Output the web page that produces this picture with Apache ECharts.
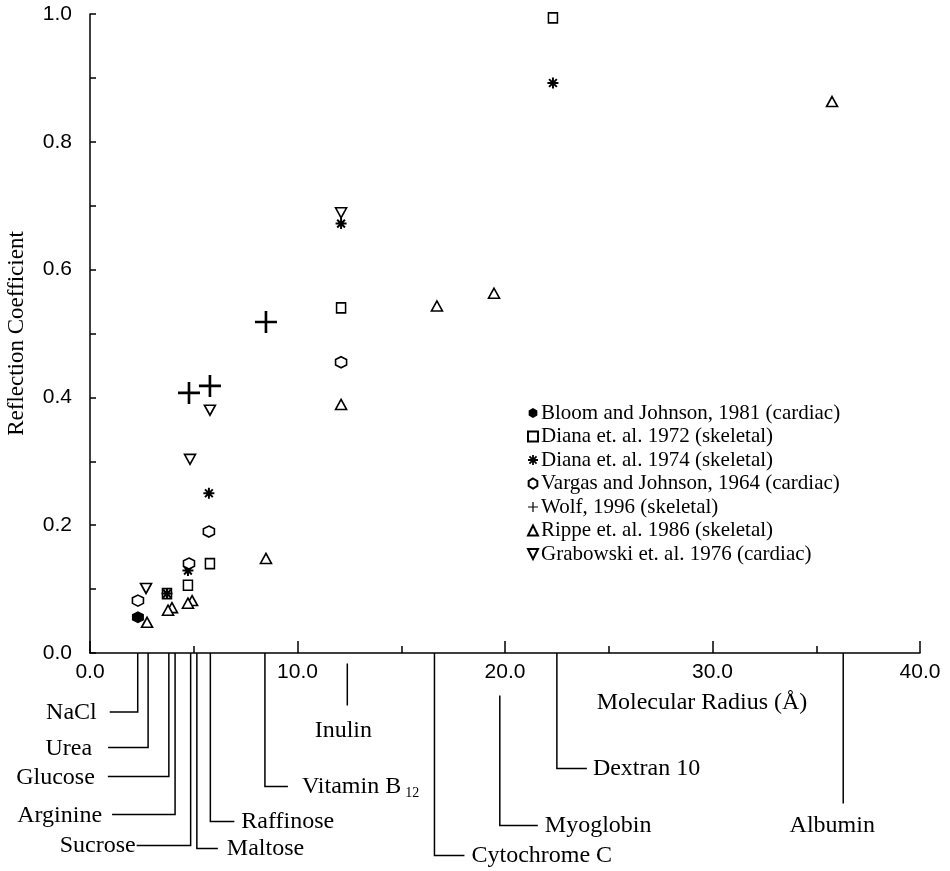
<!DOCTYPE html>
<html>
<head>
<meta charset="utf-8">
<script src="https://cdn.jsdelivr.net/npm/echarts@6/dist/echarts.min.js"></script>
<style>html,body{margin:0;padding:0;background:#fff;}#c{width:950px;height:871px;}</style>
</head>
<body>
<div id="c"></div>
<script>
// ---- data ----
const seriesNames = [
  'Bloom and Johnson, 1981 (cardiac)',
  'Diana et. al. 1972 (skeletal)',
  'Diana et. al. 1974 (skeletal)',
  'Vargas and Johnson, 1964 (cardiac)',
  'Wolf, 1996 (skeletal)',
  'Rippe et. al. 1986 (skeletal)',
  'Grabowski et. al. 1976 (cardiac)'
];
const bloomX = [2.31];
const bloomY = [0.056];
const diana72X = [22.31, 12.10, 5.78, 4.72, 3.71];
const diana72Y = [0.994, 0.540, 0.140, 0.106, 0.093];
const diana74X = [22.31, 12.10, 5.73, 4.72, 3.71];
const diana74Y = [0.892, 0.672, 0.250, 0.129, 0.093];
const vargasX = [12.10, 5.73, 4.77, 2.31];
const vargasY = [0.455, 0.190, 0.140, 0.082];
const wolfX = [8.48, 4.77, 5.78];
const wolfY = [0.518, 0.407, 0.418];
const rippeX = [35.76, 19.47, 16.72, 12.10, 8.48, 4.92, 4.72, 3.95, 3.76, 2.75];
const rippeY = [0.863, 0.563, 0.543, 0.389, 0.148, 0.082, 0.078, 0.071, 0.067, 0.048];
const grabowskiX = [12.10, 5.78, 4.82, 2.70];
const grabowskiY = [0.689, 0.380, 0.303, 0.101];

const moleculeNames = ['NaCl', 'Urea', 'Glucose', 'Arginine', 'Sucrose', 'Maltose', 'Raffinose',
  'Vitamin B12', 'Inulin', 'Cytochrome C', 'Myoglobin', 'Dextran 10', 'Albumin'];
const moleculeRadii = [2.3, 2.8, 3.8, 4.1, 4.85, 5.15, 5.8, 8.43, 12.4, 16.6, 19.75, 22.5, 36.3];

const xTickLabels = ['0.0', '10.0', '20.0', '30.0', '40.0'];
const yTickLabels = ['0.0', '0.2', '0.4', '0.6', '0.8', '1.0'];

// ---- layout / style (pixels) ----
const leaderLayout = [
  {y0: 0, y1: 59, dx: -28, tx: -13, ty: 1, align: 'right'},
  {y0: 0, y1: 94.5, dx: -40, tx: -16, ty: 1, align: 'right'},
  {y0: 0, y1: 123.5, dx: -61, tx: -13, ty: 1, align: 'right'},
  {y0: 0, y1: 161.5, dx: -63, tx: -10, ty: 1, align: 'right'},
  {y0: 0, y1: 192.5, dx: -54, tx: -1, ty: 0, align: 'right'},
  {y0: 0, y1: 195.5, dx: 21, tx: 9, ty: 0, align: 'left'},
  {y0: 0, y1: 168.5, dx: 24, tx: 7, ty: 0, align: 'left'},
  {y0: 0, y1: 133.5, dx: 23, tx: 14, ty: 0, align: 'left'},
  {y0: 10.5, y1: 52.5, dx: 0, tx: -4, ty: 25, align: 'center'},
  {y0: 0, y1: 202.5, dx: 30, tx: 7, ty: 0, align: 'left'},
  {y0: 42.5, y1: 172.5, dx: 38, tx: 7, ty: 0, align: 'left'},
  {y0: 0, y1: 115.5, dx: 30, tx: 6, ty: 0, align: 'left'},
  {y0: 0, y1: 150.5, dx: 0, tx: -11, ty: 22, align: 'center'}
];

const SERIF = '"Liberation Serif", "Times New Roman", serif';
const SANS = '"Liberation Sans", Arial, sans-serif';

const HEX = 'path://M5,0 L9.33,2.5 L9.33,7.5 L5,10 L0.67,7.5 L0.67,2.5 Z';
const ASTER = 'path://M4.1,0 L5.9,0 L5.9,10 L4.1,10 Z M0,4.1 L10,4.1 L10,5.9 L0,5.9 Z M0.82,2.1 L2.1,0.82 L9.18,7.9 L7.9,9.18 Z M2.1,9.18 L0.82,7.9 L7.9,0.82 L9.18,2.1 Z';
const PLUS = 'path://M4.4,0 L5.6,0 L5.6,10 L4.4,10 Z M0,4.4 L10,4.4 L10,5.6 L0,5.6 Z';
const INVTRI = 'path://M0,0 L10,0 L5,10 Z';

function zip(xs, ys) { return xs.map((x, i) => [x, ys[i]]); }

const hollow = {color: '#fff', borderColor: '#000', borderWidth: 1.6};
const solid = {color: '#000', borderColor: '#000', borderWidth: 0};

const scatterDefs = [
  {data: zip(bloomX, bloomY), symbol: HEX, size: 12, style: solid},
  {data: zip(diana72X, diana72Y), symbol: 'rect', size: [9, 10], style: hollow},
  {data: zip(diana74X, diana74Y), symbol: ASTER, size: 11, style: solid},
  {data: zip(vargasX, vargasY), symbol: HEX, size: 11, style: hollow},
  {data: zip(wolfX, wolfY), symbol: PLUS, size: 22, style: solid},
  {data: zip(rippeX, rippeY), symbol: 'triangle', size: [11, 10], style: hollow},
  {data: zip(grabowskiX, grabowskiY), symbol: INVTRI, size: [11, 10], style: hollow}
];

const series = scatterDefs.map((d, i) => ({
  name: seriesNames[i],
  type: 'scatter',
  data: d.data,
  symbol: d.symbol,
  symbolSize: d.size,
  itemStyle: Object.assign({opacity: 1}, d.style),
  emphasis: {disabled: true},
  z: 3
}));

series.push({
  type: 'custom',
  name: 'molecules',
  silent: true,
  clip: false,
  data: moleculeRadii.map(r => [r, 0]),
  encode: {x: 0, y: 1},
  renderItem: function (params, api) {
    const i = params.dataIndex;
    const L = leaderLayout[i];
    const p = api.coord([api.value(0), 0]);
    const x = p[0], y = p[1];
    const pts = [[x, y + L.y0], [x, y + L.y1]];
    if (L.dx !== 0) pts.push([x + L.dx, y + L.y1]);
    const name = moleculeNames[i];
    let textStyle;
    if (name === 'Vitamin B12') {
      textStyle = {
        text: '{a|Vitamin B}{s|12}',
        rich: {
          a: {fontFamily: SERIF, fontSize: 24, fill: '#000'},
          s: {fontFamily: SERIF, fontSize: 14, fill: '#000', padding: [14, 0, 0, 4]}
        },
        x: x + L.dx + L.tx, y: y + L.y1 + L.ty,
        align: L.align, verticalAlign: 'middle'
      };
    } else {
      textStyle = {
        text: name, fontFamily: SERIF, fontSize: 24, fill: '#000',
        x: x + L.dx + L.tx, y: y + L.y1 + L.ty,
        align: L.align, verticalAlign: 'middle'
      };
    }
    return {
      type: 'group',
      children: [
        {type: 'polyline', shape: {points: pts}, style: {stroke: '#000', lineWidth: 1.5, fill: null}},
        {type: 'text', style: textStyle}
      ]
    };
  },
  z: 2
});

const chart = echarts.init(document.getElementById('c'), null, {renderer: 'canvas'});
chart.setOption({
  animation: false,
  backgroundColor: '#fff',
  grid: {left: 90, right: 30, top: 14, bottom: 218, outerBoundsMode: 'none', containLabel: false},
  legend: {
    data: seriesNames,
    orient: 'vertical',
    left: 522,
    top: 397,
    itemWidth: 10,
    itemHeight: 10,
    itemGap: 1.5,
    selectedMode: false,
    textStyle: {fontFamily: SERIF, fontSize: 21, color: '#000', lineHeight: 22, padding: [0, 0, 0, -2]}
  },
  xAxis: {
    type: 'value', min: 0, max: 40, interval: 10,
    name: 'Molecular Radius (Å)',
    nameLocation: 'middle', nameGap: 38,
    nameTextStyle: {fontFamily: SERIF, fontSize: 24, color: '#000', padding: [0, 0, 0, 394]},
    axisLine: {show: true, onZero: false, lineStyle: {color: '#000', width: 1.5}},
    axisTick: {show: true, inside: true, length: 12, lineStyle: {color: '#000', width: 1.5}},
    minorTick: {show: true, splitNumber: 2, length: 7, lineStyle: {color: '#000', width: 1.5}},
    axisLabel: {
      margin: 9, fontFamily: SANS, fontSize: 21, color: '#000',
      formatter: v => xTickLabels[Math.round(v / 10)]
    },
    splitLine: {show: false}
  },
  yAxis: {
    type: 'value', min: 0, max: 1, interval: 0.2,
    name: 'Reflection Coefficient',
    nameLocation: 'middle', nameGap: 62,
    nameTextStyle: {fontFamily: SERIF, fontSize: 23, color: '#000'},
    axisLine: {show: true, onZero: false, lineStyle: {color: '#000', width: 1.5}},
    axisTick: {show: true, inside: true, length: 6, lineStyle: {color: '#000', width: 1.5}},
    minorTick: {show: true, splitNumber: 2, length: 6, lineStyle: {color: '#000', width: 1.5}},
    axisLabel: {
      margin: 18, fontFamily: SANS, fontSize: 21, color: '#000',
      formatter: v => yTickLabels[Math.round(v / 0.2)]
    },
    splitLine: {show: false}
  },
  series: series
});
</script>
</body>
</html>
